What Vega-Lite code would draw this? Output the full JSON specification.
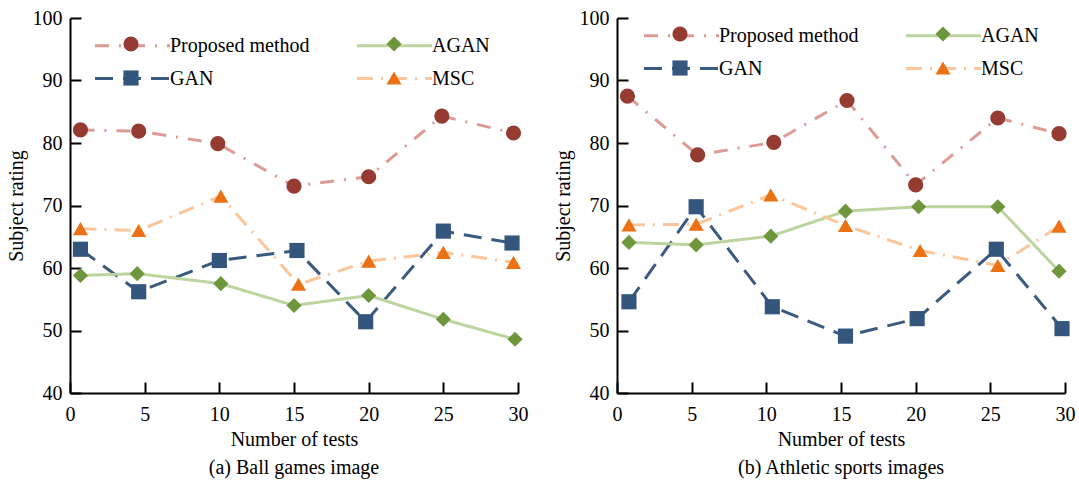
{
  "$schema": "https://vega.github.io/schema/vega-lite/v6.json",
  "background": "white",
  "padding": {"left": 6, "top": 8, "right": 2, "bottom": 5},
  "spacing": 25,
  "config": {
    "font": "Liberation Serif",
    "view": {"stroke": null},
    "axis": {
      "grid": false,
      "domainColor": "black",
      "domainWidth": 2,
      "tickColor": "black",
      "tickWidth": 2,
      "tickSize": -11,
      "labelFlush": false,
      "labelFont": "Liberation Serif",
      "titleFont": "Liberation Serif",
      "labelFontSize": 20,
      "titleFontSize": 20,
      "titleFontWeight": "normal",
      "labelColor": "black",
      "titleColor": "black"
    },
    "axisX": {"labelPadding": 22, "titlePadding": 5},
    "axisY": {"labelPadding": 19, "titlePadding": 6},
    "legend": {
      "labelFont": "Liberation Serif",
      "labelFontSize": 20,
      "labelColor": "black",
      "title": null,
      "columns": 2,
      "orient": "none",
      "rowPadding": 14,
      "columnPadding": 38
    },
    "title": {"font": "Liberation Serif", "fontSize": 20, "fontWeight": "normal", "color": "black", "orient": "bottom", "offset": 9}
  },
  "datasets": {
    "d": [
      {"p": "a", "m": "Proposed method", "x": 0.7, "y": 82.1},
      {"p": "a", "m": "Proposed method", "x": 4.6, "y": 81.9},
      {"p": "a", "m": "Proposed method", "x": 9.9, "y": 79.9},
      {"p": "a", "m": "Proposed method", "x": 15.0, "y": 73.1},
      {"p": "a", "m": "Proposed method", "x": 20.0, "y": 74.6},
      {"p": "a", "m": "Proposed method", "x": 24.9, "y": 84.3},
      {"p": "a", "m": "Proposed method", "x": 29.7, "y": 81.6},
      {"p": "a", "m": "GAN", "x": 0.7, "y": 63.0},
      {"p": "a", "m": "GAN", "x": 4.6, "y": 56.2},
      {"p": "a", "m": "GAN", "x": 10.0, "y": 61.2},
      {"p": "a", "m": "GAN", "x": 15.2, "y": 62.8},
      {"p": "a", "m": "GAN", "x": 19.8, "y": 51.4},
      {"p": "a", "m": "GAN", "x": 25.0, "y": 65.9},
      {"p": "a", "m": "GAN", "x": 29.6, "y": 64.0},
      {"p": "a", "m": "AGAN", "x": 0.7, "y": 58.8},
      {"p": "a", "m": "AGAN", "x": 4.5, "y": 59.1},
      {"p": "a", "m": "AGAN", "x": 10.1, "y": 57.5},
      {"p": "a", "m": "AGAN", "x": 15.0, "y": 54.0},
      {"p": "a", "m": "AGAN", "x": 20.0, "y": 55.6},
      {"p": "a", "m": "AGAN", "x": 25.0, "y": 51.8},
      {"p": "a", "m": "AGAN", "x": 29.8, "y": 48.6},
      {"p": "a", "m": "MSC", "x": 0.7, "y": 66.3},
      {"p": "a", "m": "MSC", "x": 4.6, "y": 66.0},
      {"p": "a", "m": "MSC", "x": 10.1, "y": 71.5},
      {"p": "a", "m": "MSC", "x": 15.3, "y": 57.4},
      {"p": "a", "m": "MSC", "x": 20.0, "y": 61.1},
      {"p": "a", "m": "MSC", "x": 25.0, "y": 62.5},
      {"p": "a", "m": "MSC", "x": 29.7, "y": 60.9},
      {"p": "b", "m": "Proposed method", "x": 0.7, "y": 87.5},
      {"p": "b", "m": "Proposed method", "x": 5.4, "y": 78.1},
      {"p": "b", "m": "Proposed method", "x": 10.5, "y": 80.1},
      {"p": "b", "m": "Proposed method", "x": 15.4, "y": 86.8},
      {"p": "b", "m": "Proposed method", "x": 20.0, "y": 73.3},
      {"p": "b", "m": "Proposed method", "x": 25.5, "y": 84.0},
      {"p": "b", "m": "Proposed method", "x": 29.6, "y": 81.5},
      {"p": "b", "m": "GAN", "x": 0.8, "y": 54.6},
      {"p": "b", "m": "GAN", "x": 5.3, "y": 69.8},
      {"p": "b", "m": "GAN", "x": 10.4, "y": 53.8},
      {"p": "b", "m": "GAN", "x": 15.3, "y": 49.1},
      {"p": "b", "m": "GAN", "x": 20.1, "y": 51.9},
      {"p": "b", "m": "GAN", "x": 25.4, "y": 63.0},
      {"p": "b", "m": "GAN", "x": 29.8, "y": 50.3},
      {"p": "b", "m": "AGAN", "x": 0.8, "y": 64.1},
      {"p": "b", "m": "AGAN", "x": 5.3, "y": 63.7},
      {"p": "b", "m": "AGAN", "x": 10.3, "y": 65.1},
      {"p": "b", "m": "AGAN", "x": 15.3, "y": 69.1},
      {"p": "b", "m": "AGAN", "x": 20.2, "y": 69.8},
      {"p": "b", "m": "AGAN", "x": 25.5, "y": 69.8},
      {"p": "b", "m": "AGAN", "x": 29.6, "y": 59.5},
      {"p": "b", "m": "MSC", "x": 0.8, "y": 66.9},
      {"p": "b", "m": "MSC", "x": 5.3, "y": 67.0},
      {"p": "b", "m": "MSC", "x": 10.3, "y": 71.7},
      {"p": "b", "m": "MSC", "x": 15.3, "y": 66.8},
      {"p": "b", "m": "MSC", "x": 20.3, "y": 62.8},
      {"p": "b", "m": "MSC", "x": 25.5, "y": 60.4},
      {"p": "b", "m": "MSC", "x": 29.6, "y": 66.7}
    ]
  },
  "resolve": {
    "scale": {"stroke": "independent", "strokeDash": "independent", "fill": "independent", "shape": "independent"},
    "legend": {"stroke": "independent", "strokeDash": "independent", "fill": "independent", "shape": "independent"}
  },
  "hconcat": [
    {
      "width": 448,
      "height": 375,
      "data": {"name": "d"},
      "transform": [{"filter": "datum.p == 'a'"}],
      "title": {"text": "(a) Ball games image"},
      "encoding": {
        "x": {"field": "x", "type": "quantitative", "scale": {"domain": [0, 30], "nice": false, "zero": false}, "axis": {"values": [0, 5, 10, 15, 20, 25, 30], "title": "Number of tests"}},
        "y": {"field": "y", "type": "quantitative", "scale": {"domain": [40, 100], "nice": false, "zero": false}, "axis": {"values": [40, 50, 60, 70, 80, 90, 100], "title": "Subject rating"}}
      },
      "layer": [
        {
          "mark": {"type": "line", "strokeWidth": 3},
          "encoding": {
            "stroke": {"field": "m", "type": "nominal", "scale": {"domain": ["Proposed method", "GAN", "AGAN", "MSC"], "range": ["#dd9b95", "#3b5a80", "#bcd5a0", "#fcc69a"]},
              "legend": {"legendX": 46, "legendY": 11, "symbolType": "M-2.5,0H2.5", "symbolSize": 900, "symbolStrokeWidth": 3, "labelOffset": 21, "rowPadding": 6, "columnPadding": 41}},
            "strokeDash": {"field": "m", "type": "nominal", "scale": {"domain": ["Proposed method", "GAN", "AGAN", "MSC"], "range": [[14, 10, 2, 10], [18, 10], [1, 0], [16, 8, 2, 8]]}}
          }
        },
        {
          "mark": {"type": "point", "filled": true, "size": 230, "opacity": 1, "strokeWidth": 0},
          "encoding": {
            "fill": {"field": "m", "type": "nominal", "scale": {"domain": ["Proposed method", "AGAN", "GAN", "MSC"], "range": ["#953b31", "#6e973d", "#35567c", "#ec7114"]},
              "legend": {"direction": "horizontal", "legendX": 51, "legendY": 16, "symbolSize": 230, "symbolStrokeWidth": 0, "labelOffset": 32, "labelOpacity": 0, "columnPadding": 71}},
            "shape": {"field": "m", "type": "nominal", "scale": {"domain": ["Proposed method", "AGAN", "GAN", "MSC"], "range": ["circle", "diamond", "square", "triangle-up"]},
              "legend": {"direction": "horizontal", "legendX": 51, "legendY": 16, "symbolSize": 230, "symbolStrokeWidth": 0, "labelOffset": 32, "labelOpacity": 0, "columnPadding": 71}}
          }
        }
      ]
    },
    {
      "width": 448,
      "height": 375,
      "data": {"name": "d"},
      "transform": [{"filter": "datum.p == 'b'"}],
      "title": {"text": "(b) Athletic sports images"},
      "encoding": {
        "x": {"field": "x", "type": "quantitative", "scale": {"domain": [0, 30], "nice": false, "zero": false}, "axis": {"values": [0, 5, 10, 15, 20, 25, 30], "title": "Number of tests"}},
        "y": {"field": "y", "type": "quantitative", "scale": {"domain": [40, 100], "nice": false, "zero": false}, "axis": {"values": [40, 50, 60, 70, 80, 90, 100], "title": "Subject rating"}}
      },
      "layer": [
        {
          "mark": {"type": "line", "strokeWidth": 3},
          "encoding": {
            "stroke": {"field": "m", "type": "nominal", "scale": {"domain": ["Proposed method", "GAN", "AGAN", "MSC"], "range": ["#dd9b95", "#3b5a80", "#bcd5a0", "#fcc69a"]},
              "legend": {"legendX": 48, "legendY": 1, "symbolType": "M-2.5,0H2.5", "symbolSize": 900, "symbolStrokeWidth": 3, "labelOffset": 21, "rowPadding": 6, "columnPadding": 41}},
            "strokeDash": {"field": "m", "type": "nominal", "scale": {"domain": ["Proposed method", "GAN", "AGAN", "MSC"], "range": [[14, 10, 2, 10], [18, 10], [1, 0], [16, 8, 2, 8]]}}
          }
        },
        {
          "mark": {"type": "point", "filled": true, "size": 230, "opacity": 1, "strokeWidth": 0},
          "encoding": {
            "fill": {"field": "m", "type": "nominal", "scale": {"domain": ["Proposed method", "AGAN", "GAN", "MSC"], "range": ["#953b31", "#6e973d", "#35567c", "#ec7114"]},
              "legend": {"direction": "horizontal", "legendX": 53, "legendY": 6, "symbolSize": 230, "symbolStrokeWidth": 0, "labelOffset": 32, "labelOpacity": 0, "columnPadding": 71}},
            "shape": {"field": "m", "type": "nominal", "scale": {"domain": ["Proposed method", "AGAN", "GAN", "MSC"], "range": ["circle", "diamond", "square", "triangle-up"]},
              "legend": {"direction": "horizontal", "legendX": 53, "legendY": 6, "symbolSize": 230, "symbolStrokeWidth": 0, "labelOffset": 32, "labelOpacity": 0, "columnPadding": 71}}
          }
        }
      ]
    }
  ]
}
